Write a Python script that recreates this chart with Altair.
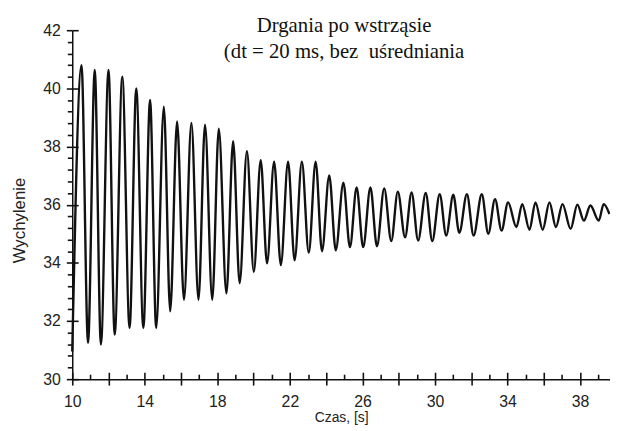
import altair as alt
import pandas as pd

time_s = [10.00, 10.51, 10.87, 11.24, 11.58, 12.00, 12.34, 12.76, 13.16, 13.53,
          13.92, 14.29, 14.63, 15.05, 15.40, 15.78, 16.16, 16.57, 16.96, 17.32,
          17.72, 18.08, 18.50, 18.87, 19.23, 19.63, 20.01, 20.39, 20.74, 21.13,
          21.50, 21.90, 22.26, 22.66, 23.04, 23.42, 23.77, 24.17, 24.53, 24.95,
          25.31, 25.68, 26.04, 26.44, 26.80, 27.20, 27.59, 27.95, 28.35, 28.71,
          29.07, 29.49, 29.85, 30.26, 30.62, 31.01, 31.34, 31.76, 32.13, 32.58,
          32.94, 33.31, 33.67, 34.03, 34.49, 34.81, 35.21, 35.54, 35.94, 36.31,
          36.67, 37.03, 37.48, 37.85, 38.21, 38.57, 39.03, 39.30, 39.62]
deflection = [30.95, 40.80, 31.25, 40.63, 31.19, 40.63, 31.53, 40.40, 31.76, 40.00,
              31.76, 39.60, 31.76, 39.37, 32.33, 38.86, 32.73, 38.81, 32.73, 38.75,
              32.73, 38.61, 32.95, 38.18, 33.30, 37.84, 33.69, 37.53, 33.98, 37.48,
              33.92, 37.48, 34.09, 37.48, 34.35, 37.48, 34.40, 37.01, 34.43, 36.76,
              34.54, 36.59, 34.54, 36.59, 34.57, 36.56, 34.75, 36.45, 34.88, 36.42,
              34.77, 36.40, 34.75, 36.36, 34.94, 36.34, 35.03, 36.36, 34.94, 36.36,
              35.00, 36.19, 35.11, 36.08, 35.23, 36.02, 35.14, 36.08, 35.14, 36.08,
              35.23, 36.02, 35.17, 36.00, 35.45, 35.97, 35.45, 36.02, 35.68]

x_major = [10, 12, 14, 16, 18, 20, 22, 24, 26, 28, 30, 32, 34, 36, 38]
x_minor = [11, 13, 15, 17, 19, 21, 23, 25, 27, 29, 31, 33, 35, 37, 39]
y_major = [30, 32, 34, 36, 38, 40, 42]
y_minor = [30.4, 30.8, 31.2, 31.6, 32.4, 32.8, 33.2, 33.6, 34.4, 34.8, 35.2, 35.6,
           36.4, 36.8, 37.2, 37.6, 38.4, 38.8, 39.2, 39.6, 40.4, 40.8, 41.2, 41.6]

W, H = 544, 353
x_dom = [10, 39.65]
y_dom = [30, 42]
INK = "#111111"
SANS = "Liberation Sans"

df = pd.DataFrame({"t": time_s, "y": deflection})
xs = alt.Scale(domain=x_dom, nice=False, zero=False)
ys = alt.Scale(domain=y_dom, nice=False, zero=False)

common = dict(grid=False, tickColor=INK, tickWidth=1.6, domainColor=INK, domainWidth=1.5)
bare = dict(labels=False, domain=False, title=None, grid=False, tickWidth=1.6, tickColor=INK)

line = alt.Chart(df).mark_line(interpolate="monotone", color=INK, strokeWidth=2.4).encode(
    x=alt.X("t:Q", scale=xs, axis=alt.Axis(
        orient="bottom", values=x_major, tickSize=6,
        labelExpr="datum.value % 4 == 2 ? datum.label : ''",
        labelFont=SANS, labelFontSize=16, labelColor="#222", labelPadding=9,
        labelFlush=False, labelOverlap=False,
        title="Czas, [s]", titleFont=SANS, titleFontSize=14, titleFontWeight="normal",
        titleColor="#222", titleX=W / 2, titleY=43, titleBaseline="alphabetic",
        **common)),
    y=alt.Y("y:Q", scale=ys, axis=alt.Axis(
        orient="left", values=y_major, tickSize=6,
        labelFont=SANS, labelFontSize=16, labelColor="#222", labelPadding=6,
        labelFlush=False, labelOverlap=False,
        title="Wychylenie", titleFont=SANS, titleFontSize=17, titleFontWeight="normal",
        titleColor="#222", titleX=-53, titleY=192, titleAngle=270,
        titleBaseline="middle", titleAlign="center",
        **common)),
)

# minor ticks: odd seconds pointing up, 0.4 steps on the left
ticks_a = alt.Chart(df).mark_line(strokeOpacity=0).encode(
    x=alt.X("t:Q", scale=xs, axis=alt.Axis(
        orient="top", offset=-H, values=x_minor, tickSize=5, **bare)),
    y=alt.Y("y:Q", scale=ys, axis=alt.Axis(
        orient="left", values=y_minor, tickSize=5, **bare)),
)

# major ticks crossing the axis lines
ticks_b = alt.Chart(df).mark_line(strokeOpacity=0).encode(
    x=alt.X("t:Q", scale=xs, axis=alt.Axis(
        orient="top", offset=-H, values=x_major, tickSize=7, **bare)),
    y=alt.Y("y:Q", scale=ys, axis=alt.Axis(
        orient="right", offset=-W, values=y_major, tickSize=6, **bare)),
)

chart = alt.layer(line, ticks_a, ticks_b).resolve_axis(
    x="independent", y="independent"
).properties(
    width=W, height=H,
    autosize=alt.AutoSizeParams(type="none"),
    padding={"left": 65, "top": 20, "right": 0, "bottom": 52},
    title=alt.Title(
        ["Drgania po wstrząsie", "(dt = 20 ms, bez\u00a0 uśredniania"],
        font="Liberation Serif", fontSize=21, fontWeight="normal", color=INK,
        anchor="middle", offset=-40, lineHeight=26, dx=3,
    ),
).configure_view(stroke=None)

chart.save("out.html", embed_options={"renderer": "svg", "actions": False})
